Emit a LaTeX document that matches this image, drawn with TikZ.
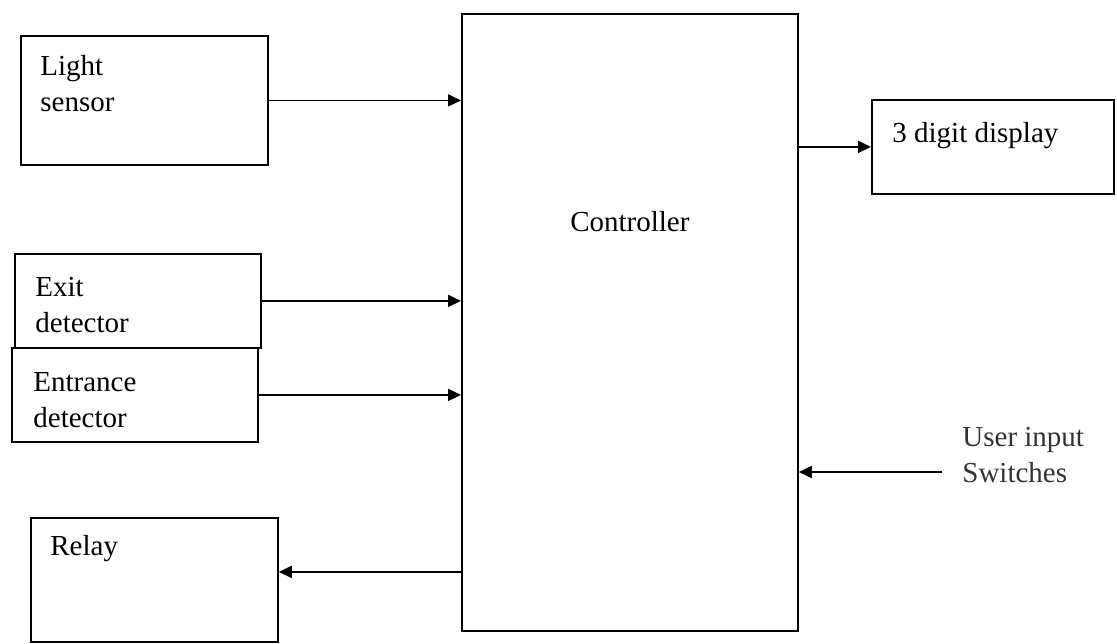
\documentclass[tikz,border=0pt]{standalone}
\usepackage{fontspec}
\setmainfont{Liberation Serif}
\usetikzlibrary{arrows.meta, positioning, calc}

\begin{document}
\begin{tikzpicture}[
    x=0.5pt, y=-0.5pt,
    node distance=10pt and 10pt,
    block/.style={draw, line width=0.9pt, inner sep=0pt, anchor=north west},
    blockText/.style={align=left, inner sep=0pt, font=\fontsize{14.5}{18}\selectfont},
    flow/.style={-{Triangle[length=6.5pt, width=6pt]}, line width=0.9pt}
]
\useasboundingbox (0,0) rectangle (1117,643);

% blocks
\node[block, minimum width=123.5pt, minimum height=64.5pt] (light) at (20,35) {};
\node[block, minimum width=123pt, minimum height=47pt] (exit) at (14,253) {};
\node[block, minimum width=123pt, minimum height=47pt] (entrance) at (11,347) {};
\node[block, minimum width=123.5pt, minimum height=62pt] (relay) at (30,517) {};
\node[block, minimum width=168pt, minimum height=308.5pt] (ctrl) at (461,13) {};
\node[block, minimum width=121pt, minimum height=47pt] (disp) at (871,99) {};

% texts
\node[blockText, below right=10pt and 10pt of light.north west] (lightText) {Light\\sensor};
\node[blockText, below right=12pt and 10.5pt of exit.north west] (exitText) {Exit\\detector};
\node[blockText, below right=12.5pt and 11pt of entrance.north west] (entranceText) {Entrance\\detector};
\node[blockText, below right=9pt and 10pt of relay.north west] (relayText) {Relay};
\node[blockText, below right=11.5pt and 10.5pt of disp.north west] (dispText) {3 digit display};
\node[blockText, below=99pt of ctrl.north] (ctrlText) {Controller};
\node[blockText, anchor=west, text=black!80] (usr) at (962,455) {User input\\Switches};

% connectors
\draw[flow] (light.east) -- (light.east -| ctrl.west);
\draw[flow] (exit.east) -- (exit.east -| ctrl.west);
\draw[flow] (entrance.east) -- (entrance.east -| ctrl.west);
\draw[flow] ($(relay.east -| ctrl.west)+(0,-8)$) -- ($(relay.east)+(0,-8)$);
\draw[flow] (disp.west -| ctrl.east) -- (disp.west);
\draw[flow] ($(usr.west)+(-20,17)$) -- ($(usr.west -| ctrl.east)+(0,17)$);

\end{tikzpicture}
\end{document}
